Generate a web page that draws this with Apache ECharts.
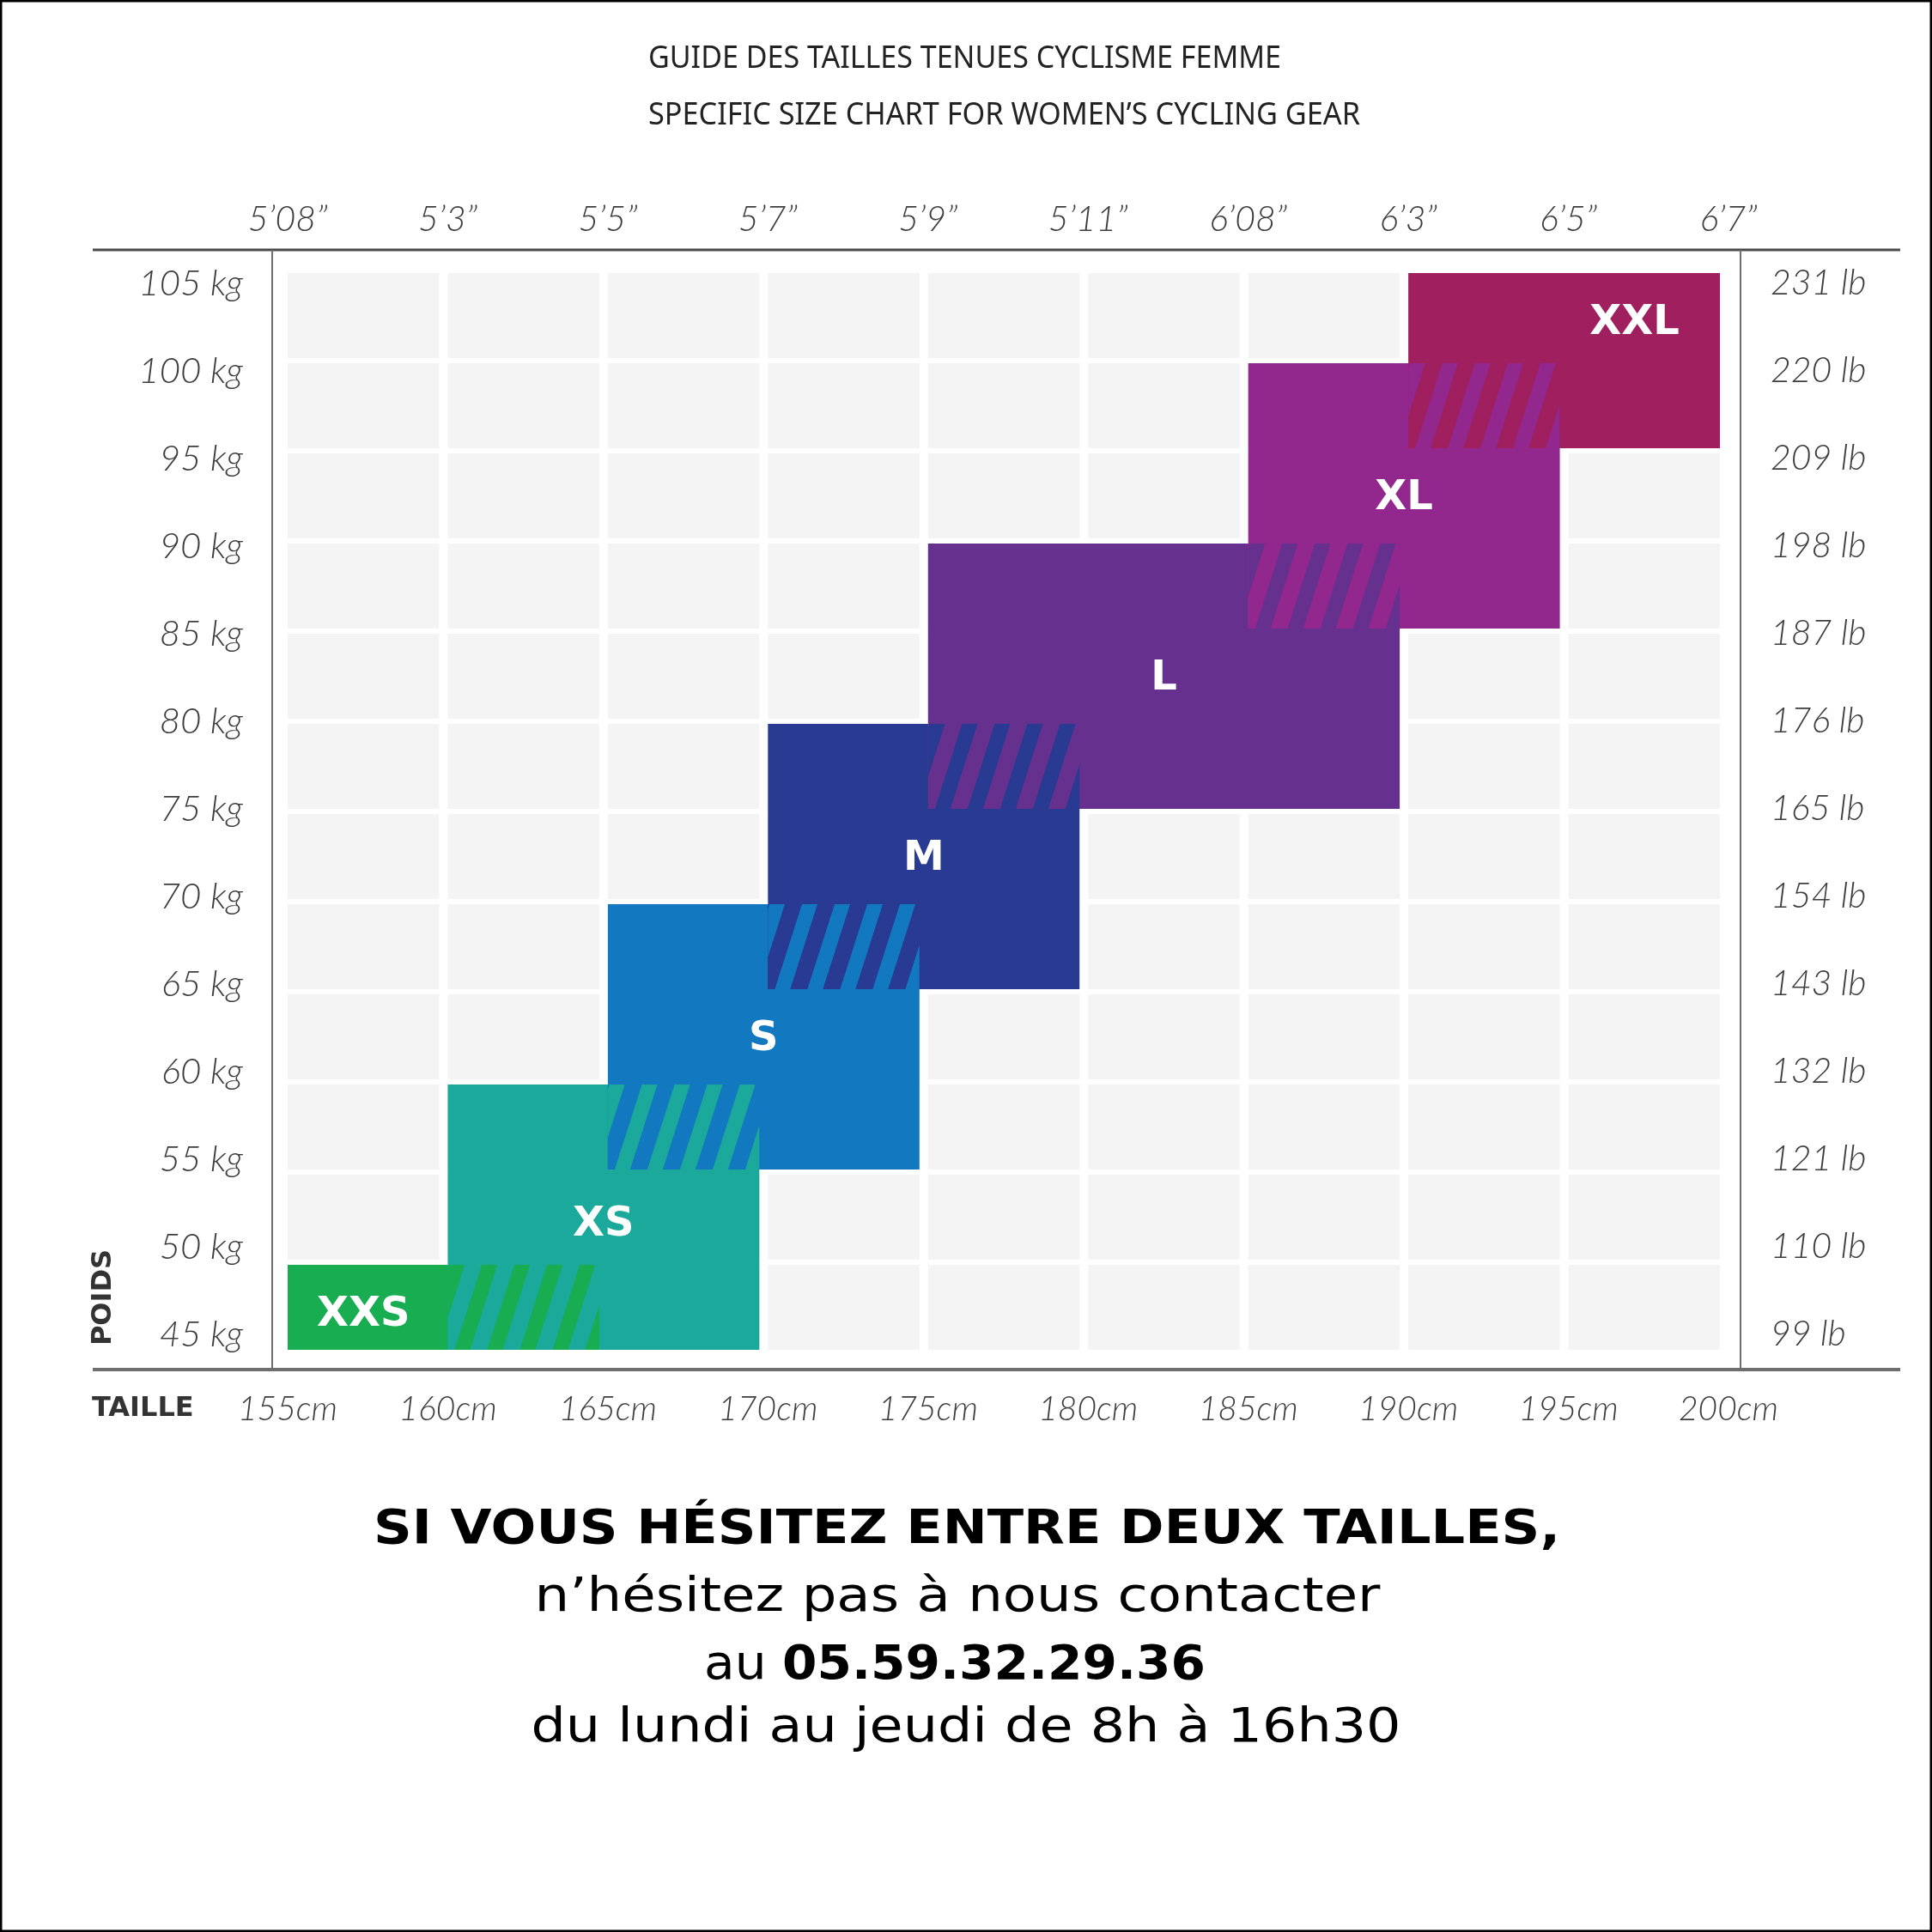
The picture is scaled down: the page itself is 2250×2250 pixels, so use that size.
<!DOCTYPE html>
<html>
<head>
<meta charset="utf-8">
<script src="https://cdn.jsdelivr.net/npm/echarts@6/dist/echarts.min.js"></script>
<style>
html,body{margin:0;padding:0;background:#fff;}
#chart{width:2250px;height:2250px;}
</style>
</head>
<body>
<div id="chart"></div>
<script>
// ---------------- DATA ----------------
const heightTicks = [155, 160, 165, 170, 175, 180, 185, 190, 195, 200];           // cm
const feetLabels  = ['5’08”', '5’3”', '5’5”', '5’7”', '5’9”', '5’11”', '6’08”', '6’3”', '6’5”', '6’7”'];
const weightTicks = [45, 50, 55, 60, 65, 70, 75, 80, 85, 90, 95, 100, 105];       // kg
const lbLabels    = [99, 110, 121, 132, 143, 154, 165, 176, 187, 198, 209, 220, 231];

const sizeNames     = ['XXS', 'XS', 'S', 'M', 'L', 'XL', 'XXL'];
const sizeHeightMin = [155, 160, 165, 170, 175, 185, 190];
const sizeHeightMax = [165, 170, 175, 180, 190, 195, 200];
const sizeWeightMin = [45, 45, 55, 65, 75, 85, 95];
const sizeWeightMax = [50, 60, 70, 80, 90, 100, 105];
const sizeLabelHeight = [157.5, 165, 170, 175, 182.5, 190, 197.2];
const sizeLabelWeight = [47.2, 52.2, 62.5, 72.5, 82.5, 92.5, 102.2];

// ---------------- STYLE / LAYOUT ----------------
const sizeColors = ['#17ad50', '#1aa99a', '#1278bf', '#283a92', '#66318e', '#92278e', '#a0205f'];
const CELL_COLOR = '#f4f4f4';
const GRID = {left: 335, top: 318, width: 1678, height: 1260};
const GAP_X = 10, GAP_Y = 6;
const STRIPE_PERIOD = 38, STRIPE_WIDTH = 18, STRIPE_SLANT = 0.32, STRIPE_OFFSET = 8;
const LABEL_TOP_PX = 330, LABEL_BOTTOM_PX = 1554;   // where the first/last weight labels sit
const SIZE_LABEL_DY = 3;
const TICK_FONT = {fontFamily: 'Lato', fontStyle: 'italic', fontWeight: 300, color: '#3d3d3d'};

const hStep = heightTicks[1] - heightTicks[0];
const wStep = weightTicks[1] - weightTicks[0];
const wMinT = weightTicks[0], wMaxT = weightTicks[weightTicks.length - 1];
const pxPerKg = (LABEL_BOTTOM_PX - LABEL_TOP_PX) / (wMaxT - wMinT);
const labAxisMax = wMaxT + (LABEL_TOP_PX - GRID.top) / pxPerKg;
const labAxisMin = wMinT - (GRID.top + GRID.height - LABEL_BOTTOM_PX) / pxPerKg;

// background cells
const cellData = [];
for (let i = 0; i < heightTicks.length - 1; i++) {
  for (let j = 0; j < weightTicks.length - 1; j++) {
    cellData.push([heightTicks[i], weightTicks[j]]);
  }
}
// size blocks
const blockData = sizeNames.map((n, i) => [sizeHeightMin[i], sizeHeightMax[i], sizeWeightMin[i], sizeWeightMax[i], i]);
// overlaps between consecutive sizes
const overlapData = [];
for (let i = 0; i < sizeNames.length - 1; i++) {
  const h0 = Math.max(sizeHeightMin[i], sizeHeightMin[i + 1]);
  const h1 = Math.min(sizeHeightMax[i], sizeHeightMax[i + 1]);
  const w0 = Math.max(sizeWeightMin[i], sizeWeightMin[i + 1]);
  const w1 = Math.min(sizeWeightMax[i], sizeWeightMax[i + 1]);
  if (h1 > h0 && w1 > w0) overlapData.push([h0, h1, w0, w1, i]);
}
const labelData = sizeNames.map((n, i) => [sizeLabelHeight[i], sizeLabelWeight[i], i]);

// ---------------- HELPERS ----------------
function clipPlane(poly, axis, val, keepGreater) {
  const out = [];
  for (let i = 0; i < poly.length; i++) {
    const a = poly[i], b = poly[(i + 1) % poly.length];
    const ina = keepGreater ? a[axis] >= val : a[axis] <= val;
    const inb = keepGreater ? b[axis] >= val : b[axis] <= val;
    if (ina) out.push(a);
    if (ina !== inb) {
      const t = (val - a[axis]) / (b[axis] - a[axis]);
      out.push([a[0] + t * (b[0] - a[0]), a[1] + t * (b[1] - a[1])]);
    }
  }
  return out;
}
function clipRect(poly, x0, y0, x1, y1) {
  poly = clipPlane(poly, 0, x0, true);
  if (poly.length) poly = clipPlane(poly, 0, x1, false);
  if (poly.length) poly = clipPlane(poly, 1, y0, true);
  if (poly.length) poly = clipPlane(poly, 1, y1, false);
  return poly;
}
function rectFromRange(api, h0, h1, w0, w1) {
  const p0 = api.coord([h0, w1]);
  const p1 = api.coord([h1, w0]);
  return {x: p0[0], y: p0[1], width: p1[0] - p0[0] - GAP_X, height: p1[1] - p0[1] - GAP_Y};
}

const mctx = document.createElement('canvas').getContext('2d');
function measure(text, size, family, weight) {
  mctx.font = `normal ${weight} ${size}px ${family}`;
  return mctx.measureText(text).width;
}
function fitText(text, x, y, targetW, size, family, weight, align, fill) {
  const s = targetW / measure(text, size, family, weight);
  return {
    type: 'text', x: x, y: y, scaleX: s, silent: true,
    style: {text: text, fontSize: size, fontFamily: family, fontWeight: weight, fill: fill,
            align: align, textAlign: align, verticalAlign: 'middle', textVerticalAlign: 'middle'}
  };
}

// ---------------- CHART ----------------
const chart = echarts.init(document.getElementById('chart'), null, {renderer: 'canvas'});

const DJ = '"DejaVu Sans"';
const NOTO = '"Noto Sans"';
const phoneA = 'au ', phoneB = '05.59.32.29.36';
const line3W = measure(phoneA, 55, DJ, 'normal') + measure(phoneB, 55, DJ, 'bold');
const line3Scale = 584 / line3W;

const graphics = [
  // page frame
  {type: 'rect', silent: true, shape: {x: 0, y: 0, width: 2250, height: 2250}, style: {fill: 'none', stroke: '#000', lineWidth: 5}},
  // chart frame lines
  {type: 'line', silent: true, shape: {x1: 108, y1: 291, x2: 2213, y2: 291}, style: {stroke: '#4a4a4a', lineWidth: 3}},
  {type: 'line', silent: true, shape: {x1: 108, y1: 1595, x2: 2213, y2: 1595}, style: {stroke: '#6e6e6e', lineWidth: 4}},
  {type: 'line', silent: true, shape: {x1: 317, y1: 291, x2: 317, y2: 1595}, style: {stroke: '#6e6e6e', lineWidth: 2}},
  {type: 'line', silent: true, shape: {x1: 2027, y1: 291, x2: 2027, y2: 1595}, style: {stroke: '#6e6e6e', lineWidth: 2}},
  // titles
  fitText('GUIDE DES TAILLES TENUES CYCLISME FEMME', 755, 68, 737, 37, NOTO, 'normal', 'left', '#222'),
  fitText('SPECIFIC SIZE CHART FOR WOMEN’S CYCLING GEAR', 755, 134, 829, 37, NOTO, 'normal', 'left', '#222'),
  // axis names
  {type: 'text', x: 121, y: 1511, rotation: Math.PI / 2, silent: true,
   style: {text: 'POIDS', fontSize: 32, fontFamily: DJ, fontWeight: 'bold', fill: '#333',
           align: 'center', textAlign: 'center', verticalAlign: 'middle', textVerticalAlign: 'middle'}},
  {type: 'text', x: 107, y: 1641, silent: true,
   style: {text: 'TAILLE', fontSize: 32, fontFamily: DJ, fontWeight: 'bold', fill: '#333',
           align: 'left', textAlign: 'left', verticalAlign: 'middle', textVerticalAlign: 'middle'}},
  // bottom message
  fitText('SI VOUS HÉSITEZ ENTRE DEUX TAILLES,', 1126, 1783, 1382, 55, DJ, 'bold', 'center', '#000'),
  fitText('n’hésitez pas à nous contacter', 1115, 1862, 985, 55, DJ, 'normal', 'center', '#000'),
  {type: 'text', x: 1112, y: 1941, scaleX: line3Scale, silent: true,
   style: {text: '{a|' + phoneA + '}{b|' + phoneB + '}', fill: '#000',
           align: 'center', textAlign: 'center', verticalAlign: 'middle', textVerticalAlign: 'middle',
           rich: {a: {fontSize: 55, fontFamily: DJ, fontWeight: 'normal', fill: '#000'},
                  b: {fontSize: 55, fontFamily: DJ, fontWeight: 'bold', fill: '#000'}}}},
  fitText('du lundi au jeudi de 8h à 16h30', 1125, 2014, 1013, 55, DJ, 'normal', 'center', '#000')
];

const option = {
  animation: false,
  backgroundColor: '#ffffff',
  grid: {left: GRID.left, top: GRID.top, width: GRID.width, height: GRID.height},
  xAxis: [
    {
      type: 'value', position: 'bottom', min: heightTicks[0], max: heightTicks[heightTicks.length - 1], interval: hStep,
      axisLine: {show: false}, axisTick: {show: false}, splitLine: {show: false},
      axisLabel: Object.assign({fontSize: 39, margin: 63, verticalAlign: 'middle', showMinLabel: true, showMaxLabel: true,
        formatter: v => v + 'cm'}, TICK_FONT)
    },
    {
      type: 'value', position: 'top', min: heightTicks[0], max: heightTicks[heightTicks.length - 1], interval: hStep,
      axisLine: {show: false}, axisTick: {show: false}, splitLine: {show: false},
      axisLabel: Object.assign({fontSize: 41, margin: 62, verticalAlign: 'middle', showMinLabel: true, showMaxLabel: true,
        formatter: v => feetLabels[heightTicks.indexOf(Math.round(v))]}, TICK_FONT)
    }
  ],
  yAxis: [
    {type: 'value', min: wMinT, max: wMaxT, interval: wStep, show: false},
    {
      type: 'value', position: 'left', min: labAxisMin, max: labAxisMax,
      axisLine: {show: false}, axisTick: {show: false}, splitLine: {show: false},
      axisLabel: Object.assign({fontSize: 42, margin: 52, align: 'right', verticalAlign: 'middle',
        customValues: weightTicks, formatter: v => Math.round(v) + ' kg'}, TICK_FONT)
    },
    {
      type: 'value', position: 'right', min: labAxisMin, max: labAxisMax,
      axisLine: {show: false}, axisTick: {show: false}, splitLine: {show: false},
      axisLabel: Object.assign({fontSize: 41, margin: 49, align: 'left', verticalAlign: 'middle',
        customValues: weightTicks, formatter: v => lbLabels[weightTicks.indexOf(Math.round(v))] + ' lb'}, TICK_FONT)
    }
  ],
  series: [
    {
      type: 'custom', name: 'cells', xAxisIndex: 0, yAxisIndex: 0, silent: true,
      data: cellData,
      renderItem: (params, api) => {
        const h = api.value(0), w = api.value(1);
        return {type: 'rect', shape: rectFromRange(api, h, h + hStep, w, w + wStep), style: {fill: CELL_COLOR}};
      }
    },
    {
      type: 'custom', name: 'sizes', xAxisIndex: 0, yAxisIndex: 0, silent: true,
      data: blockData,
      renderItem: (params, api) => {
        const idx = api.value(4);
        return {type: 'rect', shape: rectFromRange(api, api.value(0), api.value(1), api.value(2), api.value(3)),
                style: {fill: sizeColors[idx]}};
      }
    },
    {
      type: 'custom', name: 'overlaps', xAxisIndex: 0, yAxisIndex: 0, silent: true,
      data: overlapData,
      renderItem: (params, api) => {
        const idx = api.value(4);
        const r = rectFromRange(api, api.value(0), api.value(1), api.value(2), api.value(3));
        const x0 = r.x, y0 = r.y, x1 = r.x + r.width, y1 = r.y + r.height;
        const lean = (y1 - y0) * STRIPE_SLANT;
        const children = [{type: 'rect', shape: r, style: {fill: sizeColors[idx + 1]}}];
        const kMin = -Math.ceil(lean / STRIPE_PERIOD) - 1;
        const kMax = Math.ceil((x1 - x0) / STRIPE_PERIOD) + 1;
        for (let k = kMin; k <= kMax; k++) {
          const bx = x0 + STRIPE_OFFSET + k * STRIPE_PERIOD;
          const poly = clipRect([[bx, y1], [bx + STRIPE_WIDTH, y1], [bx + STRIPE_WIDTH + lean, y0], [bx + lean, y0]], x0, y0, x1, y1);
          if (poly.length >= 3) children.push({type: 'polygon', shape: {points: poly}, style: {fill: sizeColors[idx]}});
        }
        return {type: 'group', children: children};
      }
    },
    {
      type: 'custom', name: 'labels', xAxisIndex: 0, yAxisIndex: 0, silent: true,
      data: labelData,
      renderItem: (params, api) => {
        const c = api.coord([api.value(0), api.value(1)]);
        const idx = api.value(2);
        return {type: 'text', x: c[0] - GAP_X / 2, y: c[1] - GAP_Y / 2 + SIZE_LABEL_DY,
                style: {text: sizeNames[idx], fill: '#ffffff', fontSize: 48, fontFamily: DJ, fontWeight: 'bold',
                        align: 'center', textAlign: 'center', verticalAlign: 'middle', textVerticalAlign: 'middle'}};
      }
    }
  ],
  graphic: graphics
};

chart.setOption(option);
</script>
</body>
</html>
